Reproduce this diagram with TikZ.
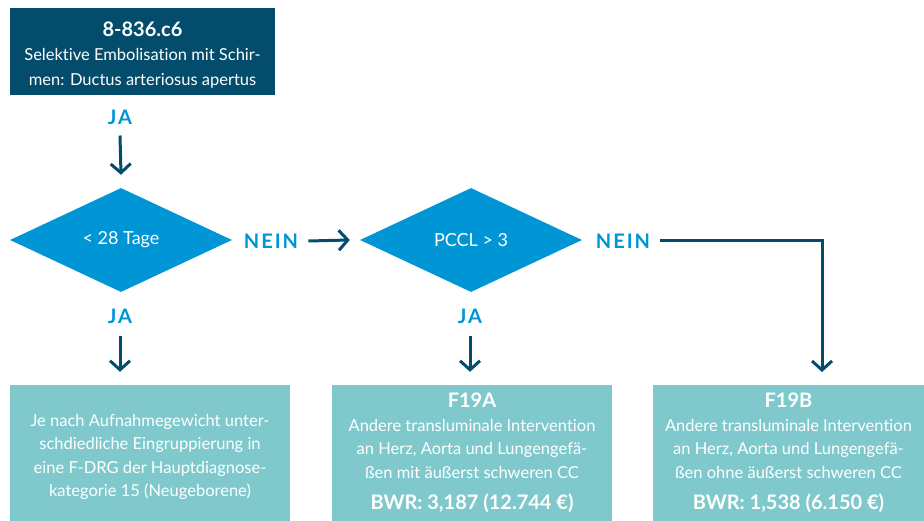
\documentclass[tikz,border=0pt]{standalone}
\usepackage{fontspec}
\setmainfont[Ligatures={NoCommon}]{Lato}
\newfontfamily\labfont[LetterSpace=10]{Lato}
\usetikzlibrary{shapes.geometric,arrows.meta}
\definecolor{dkblue}{HTML}{034C6C}
\definecolor{ltblue}{HTML}{0096D6}
\definecolor{teal}{HTML}{7FC9CD}
\tikzset{
  darkbox/.style={fill=dkblue,text=white,minimum width=265pt,minimum height=87pt,inner sep=0pt,align=center,font=\fontsize{16.5}{24.5}\selectfont},
  resbox/.style={fill=teal,text=white,minimum height=136pt,inner sep=0pt,align=center,font=\fontsize{16.5}{23.5}\selectfont},
  dia/.style={diamond,fill=ltblue,text=white,minimum width=222pt,minimum height=104pt,inner sep=0pt,font=\fontsize{18}{20}\selectfont},
  lab/.style={text=ltblue,font=\labfont\bfseries\fontsize{20}{22}\selectfont,inner sep=0pt},
  arr/.style={draw=dkblue,line width=3pt,-{Straight Barb[length=9pt,width=20pt,line width=3pt]}},
}
\newcommand{\ttlfont}{\bfseries\fontsize{20}{22}\selectfont}
\begin{document}
\begin{tikzpicture}[x=1pt,y=-1pt]
\useasboundingbox (0,0) rectangle (924,521);
\node[darkbox] (top) at (142.5,51.5) {\rule{0pt}{21pt}{\ttlfont 8-836.c6}\\Selektive Embolisation mit Schir-\\men: Ductus arteriosus apertus};
\node[lab] (ja1) at (120,117) {JA};
\node[dia] (d1) at (121,240) {< 28 Tage};
\node[lab] (nein1) at (271,241) {NEIN};
\node[dia] (d2) at (471,240) {PCCL > 3};
\node[lab] (nein2) at (623,241) {NEIN};
\node[lab] (ja2) at (120,316) {JA};
\node[lab] (ja3) at (470,316) {JA};
\node[resbox,minimum width=280pt] (b1) at (150,453) {\rule{0pt}{20pt}Je nach Aufnahmegewicht unter-\\schdiedliche Eingruppierung in\\eine F-DRG der Hauptdiagnose-\\kategorie 15 (Neugeborene)};
\node[resbox,minimum width=280pt] (b2) at (472,453) {{\ttlfont F19A}\\Andere transluminale Intervention\\an Herz, Aorta und Lungengefä-\\ßen mit äußerst schweren CC\\[8pt]{\ttlfont BWR: 3,187 (12.744 €)}};
\node[resbox,minimum width=271pt] (b3) at (788.5,453) {{\ttlfont F19B}\\Andere transluminale Intervention\\an Herz, Aorta und Lungengefä-\\ßen ohne äußerst schweren CC\\[8pt]{\ttlfont BWR: 1,538 (6.150 €)}};
\coordinate (c3) at (822,372);
\draw[arr] ([yshift=-11pt]ja1.south) -- ([yshift=13pt]d1.north);
\draw[arr] ([xshift=10pt]nein1.east) -- ([xshift=-10pt]d2.west);
\draw[arr] ([yshift=-12pt]ja2.south) -- ([yshift=13pt]b1.north -| ja2.south);
\draw[arr] ([yshift=-12pt]ja3.south) -- ([yshift=13pt]b2.north -| ja3.south);
\draw[arr] ([xshift=10pt]nein2.east) -| (c3);
\end{tikzpicture}
\end{document}
